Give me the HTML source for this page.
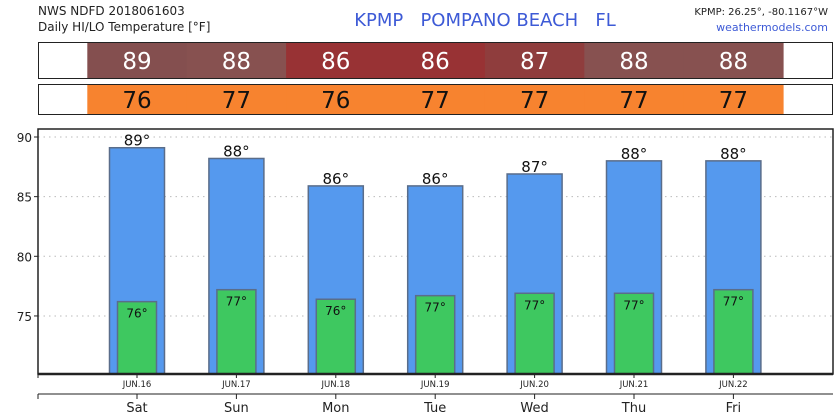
<!DOCTYPE html>
<html><head><meta charset="utf-8"><style>
body{margin:0;background:#fff;font-family:"DejaVu Sans","Liberation Sans",sans-serif}
svg{display:block;font-family:"DejaVu Sans","Liberation Sans",sans-serif}
</style></head><body>
<svg id="chart" width="840" height="420" xmlns="http://www.w3.org/2000/svg">
<text x="38" y="15" font-size="12" fill="#222">NWS NDFD 2018061603</text>
<text x="38" y="31" font-size="12" fill="#222">Daily HI/LO Temperature [°F]</text>
<text x="485" y="26" font-size="18" fill="#3d5ad6" text-anchor="middle" xml:space="preserve">KPMP   POMPANO BEACH   FL</text>
<text x="828" y="15" font-size="10" fill="#222" text-anchor="end">KPMP: 26.25°, -80.1167°W</text>
<text x="828" y="31" font-size="11" fill="#3d5ad6" text-anchor="end">weathermodels.com</text>
<g id="tables"></g>
<g id="plot"></g>
</svg>
<script>
const days=["Sat","Sun","Mon","Tue","Wed","Thu","Fri"];
const dates=["JUN.16","JUN.17","JUN.18","JUN.19","JUN.20","JUN.21","JUN.22"];
const hiVals=[89.1,88.2,85.9,85.9,86.9,88.0,88.0];
const loVals=[76.2,77.2,76.4,76.7,76.9,76.9,77.2];
const hiLabels=[89,88,86,86,87,88,88];
const loLabels=[76,77,76,77,77,77,77];
const yTicks=[75,80,85,90];
const NS="http://www.w3.org/2000/svg";
const X0=38,X1=833,Y0=129,Y1=374;
const x=i=>137+99.4*i;
const y=v=>137+(90-v)*11.93;
function el(t,a,p,txt){const e=document.createElementNS(NS,t);for(const k in a)e.setAttribute(k,a[k]);if(txt!==undefined)e.textContent=txt;p.appendChild(e);return e;}
const hiColor=v=>({89:"#844f4f",88:"#875150",87:"#8f3d3d",86:"#983234"})[v]||"#8a4a4a";
const tb=document.getElementById("tables");
const cw=99.4;
let r1=el("rect",{x:38.5,y:42.5,width:794,height:36,fill:"#fff",stroke:"#222"},tb);


let r2=el("rect",{x:38.5,y:84.5,width:794,height:30,fill:"#fff",stroke:"#222"},tb);


hiLabels.forEach((v,i)=>{
 const c=el("rect",{x:x(i)-cw/2,y:43,width:cw+0.5,height:35,fill:hiColor(v)},tb);
 
 
 const t=el("text",{x:x(i),y:69,"font-size":23,fill:"#fff","text-anchor":"middle"},tb,v);
 
 
});
loLabels.forEach((v,i)=>{
 const c=el("rect",{x:x(i)-cw/2,y:85,width:cw+0.5,height:29,fill:"#f7832f"},tb);
 
 
 const t=el("text",{x:x(i),y:108,"font-size":23,fill:"#111","text-anchor":"middle"},tb,v);
 
 
});
const p=document.getElementById("plot");
yTicks.forEach(v=>{
 const g=el("line",{x1:X0,x2:X1,y1:y(v),y2:y(v),stroke:"#bbb","stroke-dasharray":"1.5 4"},p);
 
 
 el("line",{x1:X0-4,x2:X0,y1:y(v),y2:y(v),stroke:"#222"},p);
 const t=el("text",{x:X0-6,y:y(v)+5,"font-size":12,fill:"#222","text-anchor":"end"},p,v);
 
 
});
hiVals.forEach((v,i)=>{
 const b=el("rect",{x:x(i)-27.5,y:y(v),width:55,height:Y1-y(v),fill:"#5599ee",stroke:"#5a6d8a","stroke-width":1.5},p);
 
 
 const t=el("text",{x:x(i),y:y(v)-2,"font-size":15,fill:"#111","text-anchor":"middle"},p,hiLabels[i]+"°");
 
 
});
loVals.forEach((v,i)=>{
 const b=el("rect",{x:x(i)-19.5,y:y(v),width:39,height:Y1-y(v),fill:"#3ec860",stroke:"#5a6d8a","stroke-width":1.5},p);
 
 
 const t=el("text",{x:x(i),y:y(v)+16,"font-size":12,fill:"#111","text-anchor":"middle"},p,loLabels[i]+"°");
 
 
});
el("rect",{x:X0,y:Y0,width:X1-X0,height:Y1-Y0,fill:"none",stroke:"#222","stroke-width":1.5},p);
el("line",{x1:X0,x2:X1,y1:Y1,y2:Y1,stroke:"#222","stroke-width":2.5},p);
el("line",{x1:X0,x2:X0,y1:Y1,y2:Y1+4,stroke:"#222"},p);
el("line",{x1:X0,x2:X1,y1:394,y2:394,stroke:"#222"},p);
el("line",{x1:X0,x2:X0,y1:394,y2:399,stroke:"#222"},p);
days.forEach((d,i)=>{
 el("line",{x1:x(i),x2:x(i),y1:Y1,y2:Y1+4,stroke:"#222"},p);
 const t=el("text",{x:x(i),y:387,"font-size":8.5,fill:"#222","text-anchor":"middle"},p,dates[i]);
 
 
 el("line",{x1:x(i),x2:x(i),y1:394,y2:399,stroke:"#222"},p);
 const t2=el("text",{x:x(i),y:412,"font-size":13,fill:"#222","text-anchor":"middle"},p,d);
 
 
});
</script>
</body></html>
